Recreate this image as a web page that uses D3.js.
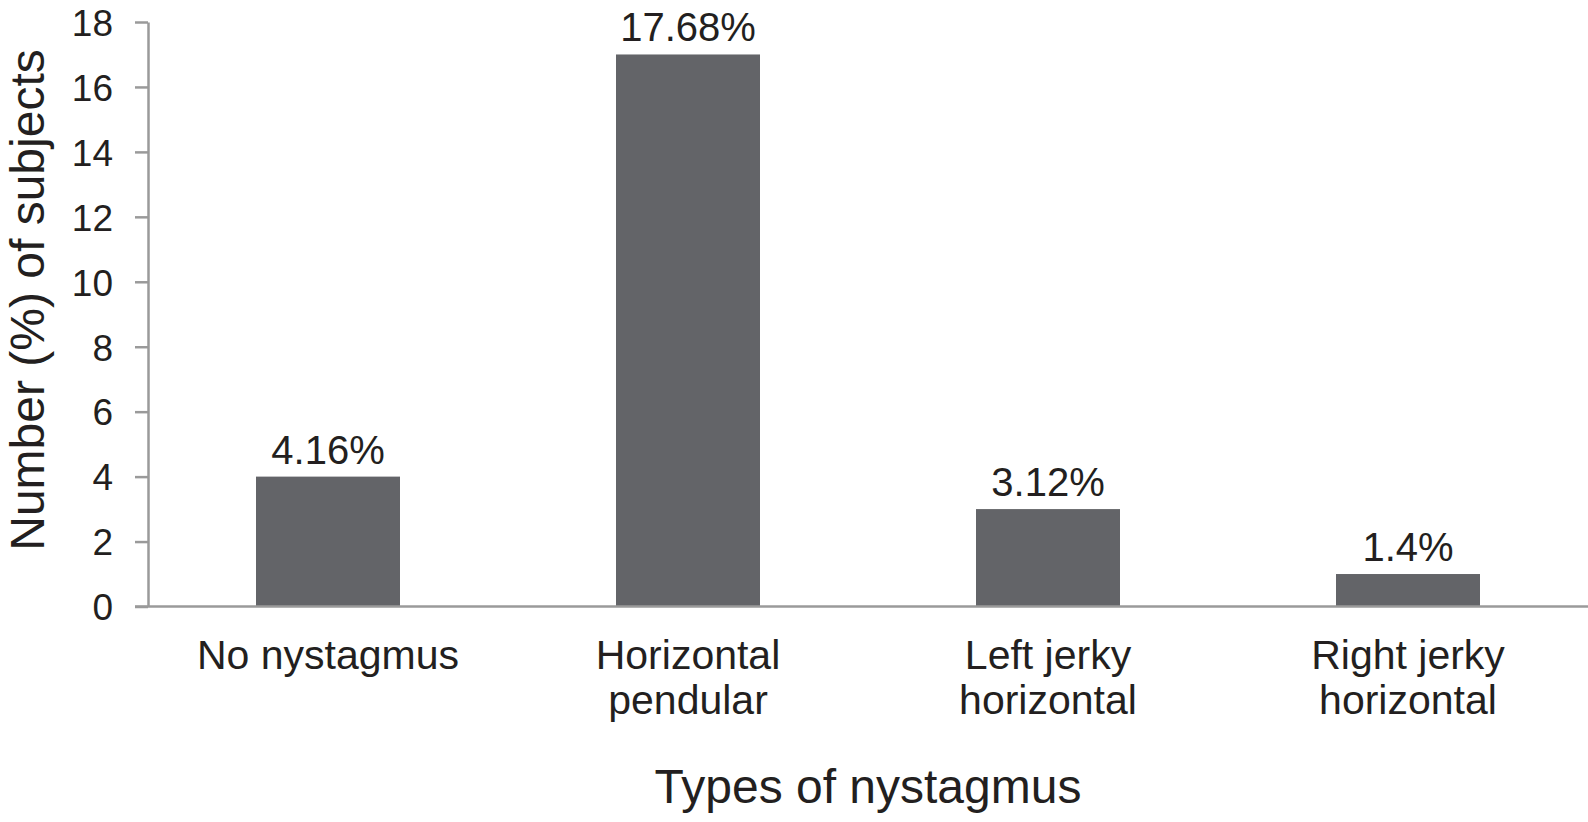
<!DOCTYPE html>
<html>
<head>
<meta charset="utf-8">
<script src="https://cdn.jsdelivr.net/npm/d3@7"></script>
<style>
  body { margin: 0; background: #fff; }
  text { font-family: "Liberation Sans", Arial, Helvetica, sans-serif; fill: #231f20; }
</style>
</head>
<body>
<div id="chart"></div>
<script>
// chart data
const categories = ["No nystagmus", "Horizontal pendular", "Left jerky horizontal", "Right jerky horizontal"];
const categoryLines = [["No nystagmus"], ["Horizontal", "pendular"], ["Left jerky", "horizontal"], ["Right jerky", "horizontal"]];
const counts = [4, 17, 3, 1];
const percentLabels = ["4.16%", "17.68%", "3.12%", "1.4%"];
const yTicks = [0, 2, 4, 6, 8, 10, 12, 14, 16, 18];

const width = 1588, height = 822;
const axisGrey = "#9a9a9a";
const barColor = "#636468";

const svg = d3.select("#chart")
    .append("svg")
    .attr("width", width)
    .attr("height", height);

const x = d3.scaleBand()
    .domain(categories)
    .range([148, 1588])
    .paddingInner(0.6)
    .paddingOuter(0.3);

const y = d3.scaleLinear()
    .domain([0, 18])
    .range([606.5, 22]);

// y axis
const yAxis = svg.append("g")
    .attr("transform", "translate(148,0)")
    .call(d3.axisLeft(y).tickValues(yTicks).tickSize(13).tickPadding(22).tickSizeOuter(0));
yAxis.select(".domain").attr("stroke", axisGrey).attr("stroke-width", 2.5);
yAxis.selectAll(".tick line").attr("stroke", axisGrey).attr("stroke-width", 2.5);
yAxis.selectAll(".tick text")
    .attr("font-size", 37)
    .attr("dy", "0.36em")
    .style("fill", "#231f20");

// bars
svg.selectAll(".bar")
    .data(counts)
    .enter()
    .append("rect")
    .attr("class", "bar")
    .attr("x", (d, i) => x(categories[i]))
    .attr("y", d => y(d))
    .attr("width", x.bandwidth())
    .attr("height", d => y(0) - y(d))
    .attr("fill", barColor);

// baseline (x axis line), runs from the zero tick to the right edge
svg.append("line")
    .attr("x1", 135)
    .attr("x2", width)
    .attr("y1", y(0))
    .attr("y2", y(0))
    .attr("stroke", axisGrey)
    .attr("stroke-width", 2.5);

// value labels above bars
svg.selectAll(".val")
    .data(counts)
    .enter()
    .append("text")
    .attr("class", "val")
    .attr("x", (d, i) => x(categories[i]) + x.bandwidth() / 2)
    .attr("y", d => y(d) - 13)
    .attr("text-anchor", "middle")
    .attr("font-size", 40)
    .text((d, i) => percentLabels[i]);

// category labels
const catG = svg.selectAll(".cat")
    .data(categoryLines)
    .enter()
    .append("text")
    .attr("class", "cat")
    .attr("text-anchor", "middle")
    .attr("font-size", 41)
    .attr("transform", (d, i) => `translate(${x(categories[i]) + x.bandwidth() / 2},669)`);
catG.selectAll("tspan")
    .data(d => d)
    .enter()
    .append("tspan")
    .attr("x", 0)
    .attr("y", (d, j) => j * 45)
    .text(d => d);

// axis titles
svg.append("text")
    .attr("x", 868)
    .attr("y", 803)
    .attr("text-anchor", "middle")
    .attr("font-size", 48)
    .text("Types of nystagmus");

svg.append("text")
    .attr("transform", "translate(44,300) rotate(-90)")
    .attr("text-anchor", "middle")
    .attr("font-size", 48)
    .text("Number (%) of subjects");
</script>
</body>
</html>
